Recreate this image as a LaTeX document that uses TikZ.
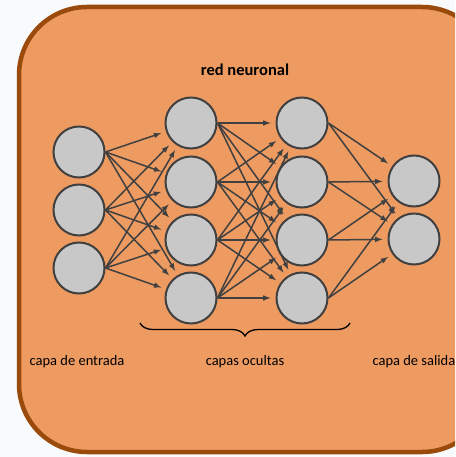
\documentclass[tikz,border=0pt]{standalone}
\usepackage{fontspec}
\setmainfont{Carlito}
\usepackage{xcolor}
\usepackage{tikz}
\usetikzlibrary{decorations.pathreplacing}

\definecolor{boxfill}{RGB}{238,155,98}
\definecolor{boxline}{RGB}{154,74,10}
\definecolor{cellfill}{RGB}{200,200,200}
\definecolor{wire}{RGB}{64,64,64}
\definecolor{paper}{RGB}{248,250,252}

\tikzset{
    neuron/.style={circle, draw=wire, fill=cellfill, line width=2pt, minimum size=51pt, inner sep=0pt},
    link/.style={->, >=latex, draw=wire, line width=1.5pt, shorten >=5pt},
    caption/.style={font=\fontsize{14.5}{17}\selectfont}
}

\begin{document}
\begin{tikzpicture}[x=1pt, y=-1pt]
    \useasboundingbox (0,0) rectangle (455,457);
    \fill[paper] (0,0) rectangle (455,457);
    \clip (0,0) rectangle (455,457);

    % Draw the frame
    \draw[fill=boxfill, draw=boxline, line width=4.5pt, rounded corners=68pt] (19,7) rectangle (490,452);

    \node[font=\fontsize{16.5}{19}\selectfont\bfseries] (title) at (245,70) {red neuronal};

    % Draw the layers
    \foreach \y [count=\i] in {152,210,268}
        \node[neuron] (in\i) at (79,\y) {};
    \foreach \y [count=\i] in {123,182,240,298} {
        \node[neuron] (ha\i) at (191,\y) {};
        \node[neuron] (hb\i) at (302,\y) {};
    }
    \foreach \y [count=\i] in {181,239}
        \node[neuron] (out\i) at (414,\y) {};

    % Add the connections
    \foreach \i in {1,2,3}
        \foreach \j in {1,...,4}
            \draw[link] (in\i.east) -- (ha\j);
    \foreach \i in {1,...,4}
        \foreach \j in {1,...,4}
            \draw[link] (ha\i.east) -- (hb\j);
    \foreach \i in {1,...,4}
        \foreach \j in {1,2}
            \draw[link] (hb\i.east) -- (out\j);

    % Brace under the hidden layers
    \draw[decorate, decoration={brace, mirror, amplitude=13pt}, line width=1.3pt] (140,323) -- (350,323);

    \node[caption] (inlabel) at (77,362) {capa de entrada};
    \node[caption] (hidlabel) at (245,362) {capas ocultas};
    \node[caption, anchor=west] (outlabel) at (369,362) {capa de salida};
\end{tikzpicture}
\end{document}
